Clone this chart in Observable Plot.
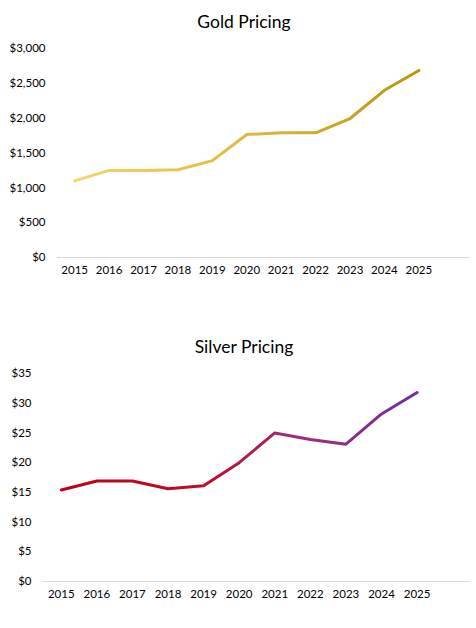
<!DOCTYPE html>
<html>
<head>
<meta charset="utf-8">
<script src="https://cdn.jsdelivr.net/npm/d3@7"></script>
<script src="https://cdn.jsdelivr.net/npm/@observablehq/plot@0.6"></script>
<style>
  html, body { margin: 0; padding: 0; background: #fff; }
  body { width: 476px; height: 628px; position: relative; overflow: hidden; font-family: Lato, "Open Sans", sans-serif; }
  .title { position: absolute; left: 0; width: 488px; text-align: center; font-size: 17.5px; color: #000; }
  .chart { position: absolute; left: 0; }
</style>
</head>
<body>
<div class="title" style="top:11px">Gold Pricing</div>
<div id="gold" class="chart" style="top:40px"></div>
<div class="title" style="top:336px">Silver Pricing</div>
<div id="silver" class="chart" style="top:360px"></div>
<script>
const years = [2015, 2016, 2017, 2018, 2019, 2020, 2021, 2022, 2023, 2024, 2025];
const goldPrices = [1100, 1250, 1250, 1260, 1390, 1765, 1790, 1790, 1995, 2400, 2685];
const silverPrices = [15.4, 16.9, 16.9, 15.6, 16.1, 20.0, 25.0, 23.9, 23.1, 28.2, 31.8];
const goldTicks = [0, 500, 1000, 1500, 2000, 2500, 3000];
const silverTicks = [0, 5, 10, 15, 20, 25, 30, 35];
const goldStops = [[0, "#f5d56a"], [0.5, "#dfb83e"], [1, "#b8960c"]];
const silverStops = [[0, "#c00018"], [0.4, "#ba0e28"], [0.65, "#a02c76"], [1, "#7030a0"]];

function gradientDefs(id, stops) {
  return () => {
    const defs = d3.create("svg:defs");
    const g = defs.append("linearGradient").attr("id", id)
      .attr("x1", "0").attr("x2", "1").attr("y1", "0").attr("y2", "0");
    for (const [o, c] of stops) g.append("stop").attr("offset", o).attr("stop-color", c);
    return defs.node();
  };
}

function makeChart({values, ticks, yMax, fmt, gradId, stops, marginLeft, marginTop, marginBottom}) {
  const data = years.map((y, i) => ({year: y, value: values[i]}));
  return Plot.plot({
    width: 476,
    height: 250,
    marginLeft,
    marginRight: 6,
    marginTop,
    marginBottom,
    style: {fontFamily: "Lato, 'Open Sans', sans-serif", fontSize: "11.5px", color: "#000", background: "#fff"},
    x: {domain: [2014.5, 2026.5], ticks: years, tickFormat: d => String(d), tickSize: 0, tickPadding: 8, label: null},
    y: {domain: [0, yMax], ticks, tickFormat: fmt, tickSize: 0, tickPadding: 12, label: null},
    marks: [
      gradientDefs(gradId, stops),
      Plot.ruleY([0], {stroke: "#d9d9d9", strokeWidth: 1}),
      Plot.line(data, {x: "year", y: "value", stroke: `url(#${gradId})`, strokeWidth: 3, strokeLinejoin: "round", strokeLinecap: "round"})
    ]
  });
}

const dollar = d => "$" + d3.format(",")(d);

document.getElementById("gold").append(makeChart({
  values: goldPrices, ticks: goldTicks, yMax: 3000, fmt: dollar,
  gradId: "goldGrad", stops: goldStops, marginLeft: 57, marginTop: 8, marginBottom: 33
}));
document.getElementById("silver").append(makeChart({
  values: silverPrices, ticks: silverTicks, yMax: 35, fmt: dollar,
  gradId: "silverGrad", stops: silverStops, marginLeft: 43, marginTop: 13, marginBottom: 29
}));
</script>
</body>
</html>
